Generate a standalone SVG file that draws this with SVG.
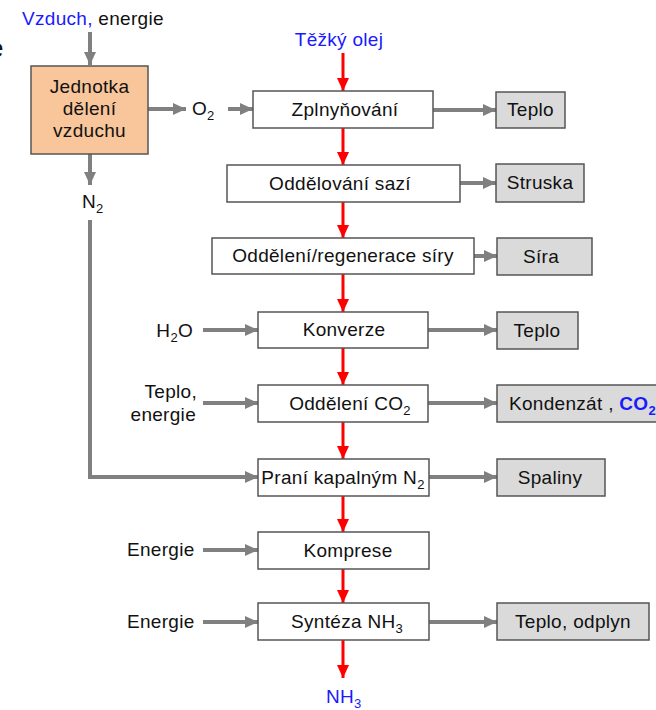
<svg xmlns="http://www.w3.org/2000/svg" width="656" height="710" viewBox="0 0 656 710">
<style>
text{font-family:"Liberation Sans",Arial,sans-serif;font-size:19px;letter-spacing:0.3px;fill:#111}
.c{text-anchor:middle}
.e{text-anchor:end}
.blue{fill:#1a1aff}
.box{fill:#fff;stroke:#555;stroke-width:1.5}
.out{fill:#dadada;stroke:#555;stroke-width:1.5}
.org{fill:#f9c59a;stroke:#555;stroke-width:1.5}
.g{fill:none;stroke:#808080;stroke-width:4;marker-end:url(#ga)}
.r{fill:none;stroke:#ff0000;stroke-width:3;marker-end:url(#ra)}
.sub{font-size:13px}
</style>
<defs>
<marker id="ga" markerUnits="userSpaceOnUse" markerWidth="14" markerHeight="14" viewBox="0 0 14 14" refX="13" refY="7" orient="auto">
<path d="M0,1 L13,7 L0,13 Z" fill="#808080"/>
</marker>
<marker id="ra" markerUnits="userSpaceOnUse" markerWidth="14" markerHeight="14" viewBox="0 0 14 14" refX="13" refY="7" orient="auto">
<path d="M0,1 L13,7 L0,13 Z" fill="#ff0000"/>
</marker>
</defs>
<rect width="656" height="710" fill="#fff"/>
<text x="-11" y="57" style="font-size:26px">e</text>

<g id="connectors">
<path class="g" d="M90,32 V65"/>
<path class="g" d="M148,109 H186"/>
<path class="g" d="M228,109 H253"/>
<path class="g" d="M90,154 V185"/>
<path class="g" d="M90,220 V477 H258"/>
<path class="g" d="M433,110 H496"/>
<path class="g" d="M460,183 H496"/>
<path class="g" d="M474,256 H497"/>
<path class="g" d="M203,330 H258"/>
<path class="g" d="M428,330 H497"/>
<path class="g" d="M203,403 H258"/>
<path class="g" d="M428,403 H497"/>
<path class="g" d="M429,477 H497"/>
<path class="g" d="M203,550 H258"/>
<path class="g" d="M203,622 H258"/>
<path class="g" d="M429,622 H497"/>
<path class="r" d="M343,53 V91"/>
<path class="r" d="M343,128 V165"/>
<path class="r" d="M343,202 V238"/>
<path class="r" d="M343,274 V312"/>
<path class="r" d="M343,348 V385"/>
<path class="r" d="M343,422 V459"/>
<path class="r" d="M343,496 V532"/>
<path class="r" d="M343,569 V603"/>
<path class="r" d="M343,640 V678"/>
</g>

<g id="input-air"><text x="22" y="25"><tspan class="blue">Vzduch,</tspan> energie</text></g>
<g id="input-oil"><text class="c blue" x="339" y="46">Těžký olej</text></g>

<g id="air-separation">
<rect class="org" x="31" y="66" width="117" height="88"/>
<text class="c" x="89.5" y="93">Jednotka</text>
<text class="c" x="89.5" y="115">dělení</text>
<text class="c" x="89.5" y="137">vzduchu</text>
</g>
<g id="o2"><text x="192" y="115">O<tspan class="sub" dy="5">2</tspan></text></g>
<g id="n2"><text x="82" y="208">N<tspan class="sub" dy="5">2</tspan></text></g>

<g id="zplynovani"><rect class="box" x="253" y="91" width="180" height="37"/><text class="c" x="345" y="116">Zplnyňování</text></g>
<g id="teplo1"><rect class="out" x="496" y="92" width="69" height="36"/><text class="c" x="530.5" y="116">Teplo</text></g>

<g id="sazi"><rect class="box" x="227" y="165" width="233" height="37"/><text class="c" x="340" y="190">Oddělování sazí</text></g>
<g id="struska"><rect class="out" x="496" y="164" width="88" height="38"/><text class="c" x="540" y="189">Struska</text></g>

<g id="sira"><rect class="box" x="212" y="238" width="262" height="36"/><text class="c" x="343" y="262">Oddělení/regenerace síry</text></g>
<g id="sira-out"><rect class="out" x="497" y="238" width="95" height="37"/><text class="c" x="541" y="263">Síra</text></g>

<g id="h2o"><text class="e" x="193" y="337">H<tspan class="sub" dy="5">2</tspan><tspan dy="-5">O</tspan></text></g>
<g id="konverze"><rect class="box" x="258" y="312" width="170" height="36"/><text class="c" x="344" y="336">Konverze</text></g>
<g id="teplo2"><rect class="out" x="497" y="312" width="81" height="37"/><text class="c" x="537" y="337">Teplo</text></g>

<g id="teplo-energie"><text class="e" x="197" y="398">Teplo,</text><text class="e" x="196" y="421">energie</text></g>
<g id="co2"><rect class="box" x="258" y="385" width="170" height="37"/><text class="c" x="350" y="410">Oddělení CO<tspan class="sub" dy="5">2</tspan></text></g>
<g id="kondenzat"><rect class="out" x="497" y="385" width="170" height="37"/><text x="509" y="410">Kondenzát , <tspan class="blue" font-weight="bold">CO<tspan class="sub" dy="5">2</tspan></tspan></text></g>

<g id="prani"><rect class="box" x="258" y="459" width="171" height="37"/><text class="c" x="343" y="484">Praní kapalným N<tspan class="sub" dy="5">2</tspan></text></g>
<g id="spaliny"><rect class="out" x="497" y="459" width="108" height="37"/><text class="c" x="550" y="484">Spaliny</text></g>

<g id="energie1"><text x="127" y="556">Energie</text></g>
<g id="komprese"><rect class="box" x="258" y="532" width="171" height="37"/><text class="c" x="348" y="557">Komprese</text></g>

<g id="energie2"><text x="127" y="628">Energie</text></g>
<g id="synteza"><rect class="box" x="258" y="603" width="171" height="37"/><text class="c" x="347" y="628">Syntéza NH<tspan class="sub" dy="5">3</tspan></text></g>
<g id="teplo-odplyn"><rect class="out" x="497" y="603" width="152" height="37"/><text class="c" x="573" y="628">Teplo, odplyn</text></g>

<g id="nh3"><text x="326" y="703" class="blue">NH<tspan class="sub" dy="5">3</tspan></text></g>
</svg>
